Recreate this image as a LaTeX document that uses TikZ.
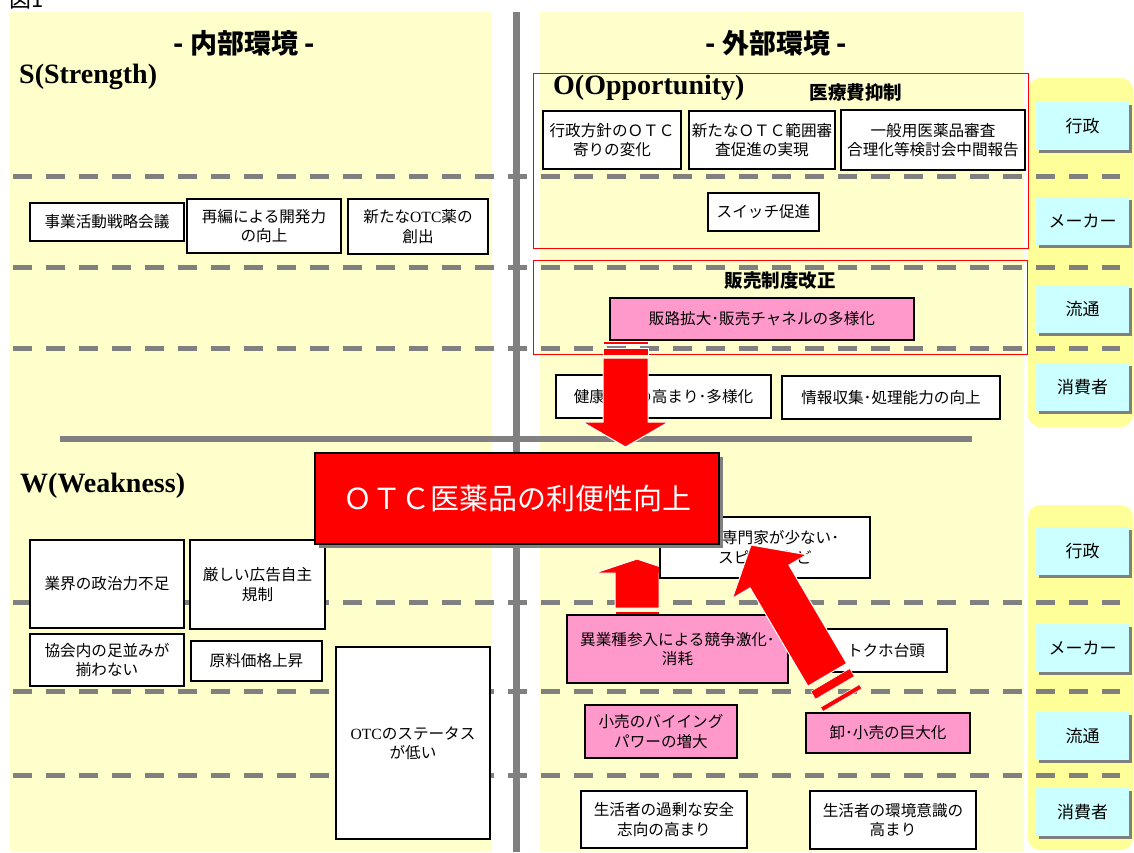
\documentclass[tikz,border=0pt]{standalone}
\usepackage{fontspec}
\setmainfont{Noto Sans CJK JP}
\newfontfamily\tms{Liberation Serif}
\usetikzlibrary{positioning,calc}
\definecolor{paneyellow}{HTML}{FFFFCC}
\definecolor{tabyellow}{HTML}{FFFF99}
\definecolor{actorcyan}{HTML}{CCFFFF}
\definecolor{factpink}{HTML}{FF99CC}
\definecolor{rulegray}{HTML}{808080}

\begin{document}
\begin{tikzpicture}[x=1pt,y=-1pt,
	fact/.style={rectangle,draw,fill=white,line width=1.2pt,align=center,inner sep=0pt,font=\fontsize{15.6}{19.5}\selectfont},
	pinkfact/.style={fact,fill=factpink},
	actor/.style={rectangle,fill=actorcyan,minimum width=93pt,minimum height=48pt,font=\fontsize{17}{20}\selectfont,
		preaction={fill=rulegray,transform canvas={shift={(3pt,-3pt)}}}},
	laneline/.style={rulegray,line width=5pt,dash pattern=on 19pt off 14pt},
	heading/.style={font=\fontsize{27}{30}\selectfont\bfseries},
	quadrant/.style={anchor=base west,inner sep=0pt,font=\tms\fontsize{28}{32}\selectfont\bfseries},
	theme/.style={font=\fontsize{18.5}{22}\selectfont\bfseries},
	blockarrow/.style={fill=red,draw=white,line width=1pt},
	arrowstripe/.style={fill=red,draw=white,line width=0.5pt}]
\useasboundingbox (0,0) rectangle (1134,852);

\fill[paneyellow] (10,12) rectangle (492,852);
\fill[paneyellow] (540,12) rectangle (1024,852);
\fill[tabyellow,rounded corners=12pt] (1028,78) rectangle (1133,427);
\fill[tabyellow,rounded corners=12pt] (1028,505) rectangle (1133,850);

\draw[rulegray,line width=7pt] (516,12) -- (516,852);
\draw[rulegray,line width=6.5pt] (60,439) -- (972,439);
\foreach \y in {176,267,348,602,691,775}
	\draw[laneline] (13,\y) -- (1120,\y);

\draw[red,line width=1pt] (533,73) rectangle (1028,248);
\draw[red,line width=1pt] (533,260) rectangle (1027,354);

\node[anchor=south west,inner sep=0pt,font=\fontsize{22}{24}\selectfont] (fig) at (9,9) {図1};
\node[heading] (inner) at (244,43) {- 内部環境 -};
\node[heading] (outer) at (776,43) {- 外部環境 -};
\node[quadrant] (strength) at (19,83) {S(Strength)};
\node[quadrant] (opportunity) at (553,94) {O(Opportunity)};
\node[quadrant] (weakness) at (20,492) {W(Weakness)};
\node[theme] (costcut) at (856,92) {医療費抑制};
\node[theme] (salesreform) at (780,281) {販売制度改正};

\foreach \y/\t [count=\i] in {126/行政,221/メーカー,309/流通,387/消費者,551/行政,648/メーカー,736/流通,812/消費者}
	\node[actor] (actor\i) at (1082.5,\y) {\t};

% up arrow sits behind the entry box
\filldraw[blockarrow] (637,559) -- (679,573) -- (659,573) -- (659,608) -- (615,608) -- (615,573) -- (595,573) -- cycle;
\filldraw[arrowstripe] (615,611) rectangle (659,617);
\filldraw[arrowstripe] (615,620) rectangle (659,623);

\node[fact,minimum width=154pt,minimum height=38pt] (council) at (107,222) {事業活動戦略会議};
\node[fact,minimum width=154pt,minimum height=54pt] (rnd) at (264,226) {再編による開発力\\の向上};
\node[fact,minimum width=140pt,minimum height=55pt] (newotc) at (418,226.5) {新たな{\tms OTC}薬の\\創出};

\node[fact,minimum width=138pt,minimum height=58pt] (policy) at (612,140) {行政方針のＯＴＣ\\寄りの変化};
\node[fact,minimum width=146pt,minimum height=58pt] (review) at (762,140) {新たなＯＴＣ範囲審\\査促進の実現};
\node[fact,minimum width=184pt,minimum height=60pt] (report) at (933,140) {一般用医薬品審査\\合理化等検討会中間報告};
\node[fact,minimum width=111pt,minimum height=38pt] (switch) at (763.5,212) {スイッチ促進};
\node[pinkfact,minimum width=304pt,minimum height=42pt] (channel) at (762,319) {販路拡大･販売チャネルの多様化};
\node[fact,minimum width=215pt,minimum height=43pt] (health) at (663.5,396.5) {健康意識の高まり･多様化};
\node[fact,minimum width=218pt,minimum height=43pt] (info) at (891,397.5) {情報収集･処理能力の向上};

\node[fact,minimum width=154pt,minimum height=88pt] (politics) at (107,584) {業界の政治力不足};
\node[fact,minimum width=135pt,minimum height=89pt] (advert) at (257.5,584.5) {厳しい広告自主\\規制};
\node[fact,minimum width=154pt,minimum height=52pt] (unity) at (107,660) {協会内の足並みが\\揃わない};
\node[fact,minimum width=131pt,minimum height=40pt] (material) at (256.5,661) {原料価格上昇};
\node[fact,minimum width=154pt,minimum height=192pt] (status) at (413,743) {{\tms OTC}のステータス\\が低い};

\node[fact,minimum width=210pt,minimum height=61pt] (experts) at (765,547.5) {審査専門家が少ない･\\スピードなど};
\node[pinkfact,minimum width=221pt,minimum height=68pt] (entry) at (677.5,649) {異業種参入による競争激化･\\消耗};
\node[fact,minimum width=122pt,minimum height=43pt] (tokuho) at (886,650.5) {トクホ台頭};
\node[pinkfact,minimum width=152pt,minimum height=53pt] (buying) at (661,731.5) {小売のバイイング\\パワーの増大};
\node[pinkfact,minimum width=164pt,minimum height=40pt] (scale) at (888,733) {卸･小売の巨大化};
\node[fact,minimum width=166pt,minimum height=57pt] (safety) at (664,819.5) {生活者の過剰な安全\\志向の高まり};
\node[fact,minimum width=166pt,minimum height=58pt] (ecology) at (893,820) {生活者の環境意識の\\高まり};

\filldraw[arrowstripe] (603,341.5) rectangle (648,344.5);
\filldraw[arrowstripe] (603,348.5) rectangle (648,355);
\filldraw[blockarrow] (603,358) -- (648,358) -- (648,422) -- (668.5,422) -- (625.5,447) -- (582.5,422) -- (603,422) -- cycle;

\filldraw[blockarrow] (751,545) -- (806.6,554.7) -- (788.9,565.1) -- (846.7,663.4) -- (807.9,686.2) -- (750.1,587.9) -- (732.4,598.3) -- cycle;
\filldraw[arrowstripe] (849.7,668.6) -- (810.9,691.4) -- (815.5,699.1) -- (854.3,676.3) -- cycle;
\filldraw[arrowstripe] (859.4,684.5) -- (820.6,707.3) -- (823.0,711.4) -- (861.8,688.6) -- cycle;

\node[rectangle,draw,fill=red,line width=1.2pt,minimum width=404pt,minimum height=91pt,text=white,
	font=\fontsize{29}{32}\selectfont,preaction={fill=rulegray,transform canvas={shift={(4pt,-4pt)}}}] (goal) at (517,498.5) {ＯＴＣ医薬品の利便性向上};
\end{tikzpicture}
\end{document}
